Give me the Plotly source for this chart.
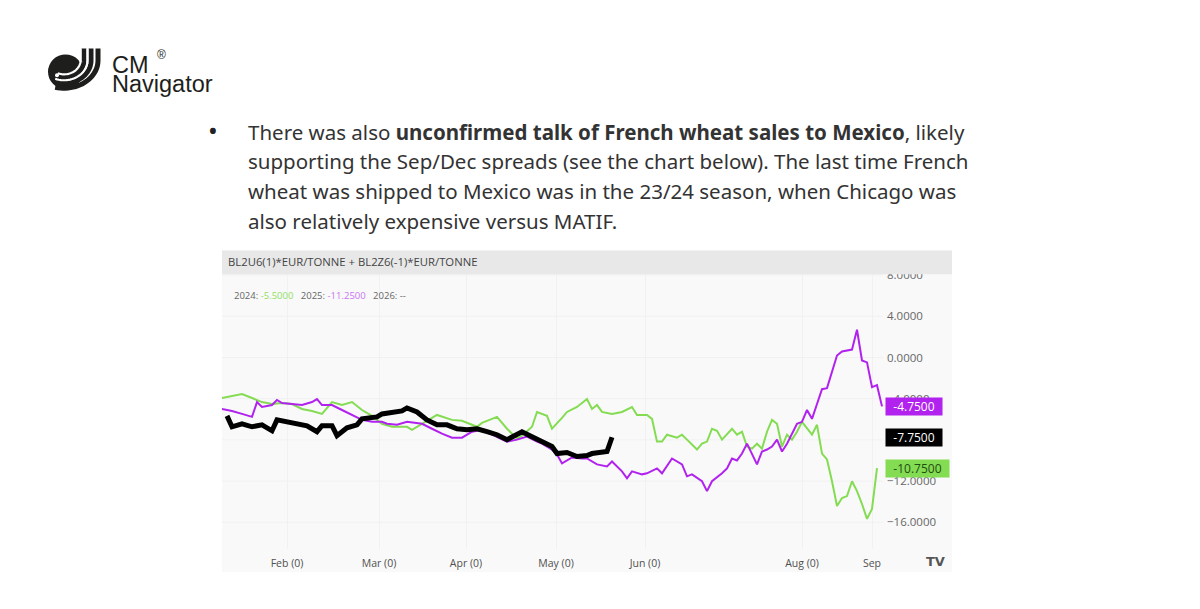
import math
import plotly.graph_objects as go

W, H = 1200, 609

# seasonal Sep/Dec Euronext wheat spread, EUR/t, x = session number in the window
green_x = [0, 2, 4, 6, 8, 10, 12, 14, 16, 18, 20, 22, 24, 26, 28, 30, 32, 34, 37, 38,
           40, 42, 43, 46, 48, 51, 52, 55, 57, 59, 60, 62, 63, 65, 66, 68, 69, 71, 73, 74,
           75, 76, 78, 80, 82, 83, 85, 86, 87, 88, 89, 91, 92, 93, 95, 96, 97, 98, 99, 100,
           102, 103, 104, 105, 106, 107, 108, 109, 110, 111, 112, 113, 114, 115, 116, 118, 119, 120, 121, 122,
           123, 124, 125, 126, 127, 128, 129, 130, 131]
green_y = [-3.94, -3.75, -3.56, -3.94, -4.33, -4.52, -4.42, -4.52, -5.00, -5.19, -5.48, -4.33, -4.62, -4.33, -5.10, -5.67, -6.44, -6.73, -6.73, -7.02,
           -6.44, -5.87, -5.58, -6.06, -6.15, -6.73, -6.35, -5.77, -6.92, -7.88, -7.60, -6.73, -5.29, -5.67, -6.92, -5.87, -5.29, -4.81, -4.04, -5.00,
           -4.62, -5.29, -5.48, -5.29, -4.81, -5.58, -5.58, -5.96, -8.17, -8.17, -7.50, -7.79, -7.50, -7.98, -8.94, -8.37, -8.17, -6.92, -7.12, -7.98,
           -6.92, -7.50, -7.21, -8.65, -8.85, -8.37, -8.85, -7.21, -6.06, -6.44, -8.65, -7.50, -7.98, -7.21, -6.25, -7.50, -6.54, -9.33, -9.90, -12.02,
           -14.42, -13.65, -13.46, -12.02, -12.98, -14.23, -15.67, -14.71, -10.75]

purple_x = [0, 2, 4, 6, 7, 8, 10, 11, 12, 15, 16, 18, 19, 20, 22, 24, 26, 28, 30, 32,
            33, 35, 37, 40, 42, 44, 46, 48, 50, 52, 54, 56, 57, 59, 61, 63, 64, 66, 67, 68,
            70, 72, 73, 75, 77, 78, 80, 81, 82, 84, 85, 87, 88, 90, 92, 93, 94, 96, 97, 98,
            100, 101, 102, 103, 104, 105, 106, 107, 108, 109, 110, 111, 112, 113, 115, 116, 117, 118, 119, 120,
            121, 122, 123, 124, 126, 127, 128, 129, 130, 131, 132]
purple_y = [-5.00, -5.19, -5.48, -5.77, -4.33, -4.81, -4.62, -4.13, -4.42, -4.52, -4.62, -4.33, -4.04, -4.62, -4.62, -5.10, -5.58, -6.06, -6.25, -6.25,
            -6.44, -6.54, -6.25, -6.44, -6.92, -7.40, -7.79, -7.79, -7.21, -7.02, -7.50, -7.98, -8.17, -7.98, -7.69, -8.17, -8.37, -8.94, -9.42, -10.29,
            -9.71, -9.81, -9.81, -10.38, -10.58, -10.10, -11.06, -11.73, -11.06, -11.35, -11.25, -10.77, -11.25, -9.81, -10.38, -11.54, -11.35, -12.02, -12.98, -12.02,
            -11.25, -10.77, -9.81, -10.00, -9.33, -8.37, -9.33, -10.38, -9.13, -8.94, -8.65, -7.98, -9.13, -8.37, -6.44, -6.25, -5.10, -5.96, -4.52, -3.08,
            -2.98, -1.44, 0.19, 0.58, 0.77, 2.69, -0.29, -0.48, -2.88, -2.69, -4.75]

black_x = [1, 2, 4, 6, 8, 10, 11, 14, 16, 17, 19, 20, 22, 23, 25, 27, 28, 31, 32, 34,
           36, 37, 39, 41, 43, 45, 47, 49, 51, 53, 55, 57, 58, 60, 62, 64, 66, 67, 69, 71,
           73, 74, 76, 77, 78]
black_y = [-5.67, -6.73, -6.44, -6.73, -6.54, -7.12, -6.06, -6.35, -6.54, -6.63, -7.21, -6.63, -6.63, -7.60, -6.83, -6.54, -5.96, -5.77, -5.48, -5.29,
           -5.19, -4.90, -5.29, -6.06, -6.54, -6.54, -6.92, -7.02, -6.92, -7.21, -7.50, -7.98, -7.69, -7.21, -7.69, -8.17, -8.65, -9.33, -9.23, -9.62,
           -9.52, -9.33, -9.13, -9.13, -7.75]

month_pos = [13, 31.4, 48.8, 66.8, 84.6, 116, 130]
month_text = ["Feb (0)", "Mar (0)", "Apr (0)", "May (0)", "Jun (0)", "Aug (0)", "Sep"]
# -8.0000 sits fully under the last-value tag in the original, so it is not labelled
price_ticks = [8, 4, 0, -4, -12, -16]
grid_ticks = [8, 4, 0, -4, -8, -12, -16]

GREEN = "#84dc52"
PURPLE = "#b122ee"
BLACK = "#000000"


def px(x):
    return x / W


def py(y):
    return 1 - y / H


def arc_path(cx, cy, rx, ry, a0, a1, top=None, n=24):
    pts = []
    if top is not None:
        pts.append((cx + rx, top))
    for i in range(n + 1):
        a = math.radians(a0 + (a1 - a0) * i / n)
        pts.append((cx + rx * math.cos(a), cy + ry * math.sin(a)))
    return "M " + " L ".join(f"{px(x):.5f},{py(y):.5f}" for x, y in pts)


fig = go.Figure()
fig.add_trace(go.Scatter(x=green_x, y=green_y, mode="lines", line=dict(color=GREEN, width=2), hoverinfo="skip"))
fig.add_trace(go.Scatter(x=purple_x, y=purple_y, mode="lines", line=dict(color=PURPLE, width=2), hoverinfo="skip"))
fig.add_trace(go.Scatter(x=black_x, y=black_y, mode="lines", line=dict(color=BLACK, width=5), hoverinfo="skip"))

shapes = []
# chart panel and header strip
shapes.append(dict(type="rect", xref="paper", yref="paper", x0=px(222), x1=px(952), y0=py(572), y1=py(247),
                   fillcolor="#f9f9f9", line=dict(width=0), layer="below"))
shapes.append(dict(type="rect", xref="paper", yref="paper", x0=px(222), x1=px(952), y0=py(271), y1=py(247),
                   fillcolor="#e8e8e8", line=dict(width=0), layer="above"))
# faint horizontal grid (drawn here so the hidden -8 level still has its line)
for g in grid_ticks:
    shapes.append(dict(type="line", xref="paper", yref="y", x0=px(222), x1=px(883), y0=g, y1=g,
                       line=dict(color="#f1f1f1", width=1), layer="below"))

# logo
DARK = "#1e1e1c"
shapes.append(dict(type="circle", xref="paper", yref="paper", x0=px(48), x1=px(83), y0=py(84), y1=py(49),
                   fillcolor=DARK, line=dict(width=0)))
for rx, ry in [(20, 17), (27, 23), (34, 28)]:
    shapes.append(dict(type="path", xref="paper", yref="paper", path=arc_path(64, 55, rx, ry, 0, 105, top=43),
                       line=dict(color=DARK, width=5)))
for rx, ry in [(16.5, 14), (23.5, 20)]:
    shapes.append(dict(type="path", xref="paper", yref="paper", path=arc_path(64, 55, rx, ry, 0, 112, top=43),
                       line=dict(color="white", width=2.2)))
shapes.append(dict(type="circle", xref="paper", yref="paper", x0=px(55), x1=px(59), y0=py(72), y1=py(68),
                   fillcolor="white", line=dict(width=0)))

annotations = []
annotations.append(dict(text="CM", x=px(110), y=py(60), xref="paper", yref="paper", xanchor="left", yanchor="middle",
                        showarrow=False, font=dict(family="Liberation Sans", size=23.5, color=DARK)))
annotations.append(dict(text="®", x=px(155), y=py(49), xref="paper", yref="paper", xanchor="left", yanchor="middle",
                        showarrow=False, font=dict(family="Liberation Sans", size=12, color=DARK)))
annotations.append(dict(text="Navigator", x=px(110), y=py(79), xref="paper", yref="paper", xanchor="left", yanchor="middle",
                        showarrow=False, font=dict(family="Liberation Sans", size=23.5, color=DARK)))

body = [
    "There was also <b>unconfirmed talk of French wheat sales to Mexico</b>, likely",
    "supporting the Sep/Dec spreads (see the chart below). The last time French",
    "wheat was shipped to Mexico was in the 23/24 season, when Chicago was",
    "also relatively expensive versus MATIF.",
]
for i, line in enumerate(body):
    annotations.append(dict(text=line, x=px(246), y=py(127 + 30 * i), xref="paper", yref="paper",
                            xanchor="left", yanchor="middle", showarrow=False,
                            font=dict(family="Noto Sans", size=20.5, color="#333333")))
annotations.append(dict(text="•", x=px(213), y=py(125), xref="paper", yref="paper", xanchor="center", yanchor="middle",
                        showarrow=False, font=dict(family="Noto Sans", size=26, color="#222222")))

annotations.append(dict(text="BL2U6(1)*EUR/TONNE + BL2Z6(-1)*EUR/TONNE", x=px(226), y=py(258), xref="paper", yref="paper",
                        xanchor="left", yanchor="middle", showarrow=False,
                        font=dict(family="Open Sans", size=11.3, color="#444444")))
annotations.append(dict(
    text=("2024: <span style='color:#8fe064'>-5.5000</span>&nbsp;&nbsp;&nbsp;"
          "2025: <span style='color:#c874f5'>-11.2500</span>&nbsp;&nbsp;&nbsp;2026: --"),
    x=px(232), y=py(292), xref="paper", yref="paper", xanchor="left", yanchor="middle", showarrow=False,
    font=dict(family="Open Sans", size=9.5, color="#666666")))

# last-value tags on the price scale
for ys, bg, fg in [(purple_y, PURPLE, "white"), (black_y, BLACK, "white"), (green_y, GREEN, "#1f4d12")]:
    tag = f"{ys[-1]:.4f}"
    annotations.append(dict(text=tag, x=px(885), y=ys[-1], xref="paper", yref="y", width=7 * len(tag) + 5,
                            height=15, align="center", xanchor="left", yanchor="middle", showarrow=False,
                            bgcolor=bg, borderpad=1, font=dict(family="Open Sans", size=12, color=fg)))

annotations.append(dict(text="<b>TV</b>", x=px(935), y=py(561), xref="paper", yref="paper", xanchor="center",
                        yanchor="middle", showarrow=False,
                        font=dict(family="DejaVu Sans", size=13, color="#555555")))

fig.update_layout(
    width=W, height=H,
    margin=dict(l=0, r=0, t=0, b=0),
    paper_bgcolor="white",
    plot_bgcolor="rgba(0,0,0,0)",
    showlegend=False,
    shapes=shapes,
    annotations=annotations,
    xaxis=dict(domain=[px(222), px(883)], range=[0, 132.2], tickvals=month_pos, ticktext=month_text,
               showgrid=True, gridcolor="#f1f1f1", zeroline=False, showline=False, ticks="",
               tickfont=dict(family="Open Sans", size=10.5, color="#505050"), ticklabelstandoff=7, fixedrange=True),
    yaxis=dict(domain=[py(548), py(270)], range=[-18.56, 8.17], side="right", tickvals=price_ticks,
               tickformat=".4f", showgrid=False, zeroline=False, showline=False, ticks="",
               tickfont=dict(family="Open Sans", size=11.5, color="#666666"), ticklabelstandoff=3, fixedrange=True),
)

fig.write_html("out.html", config={"displayModeBar": False},
               post_script="document.body.style.margin='0';document.body.style.overflow='hidden';")
